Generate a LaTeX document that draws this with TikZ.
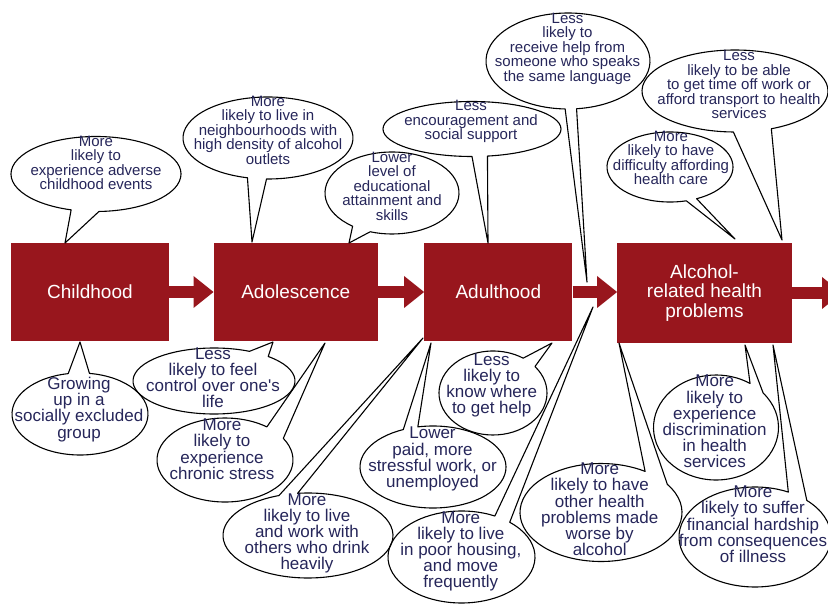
\documentclass[tikz,border=0pt]{standalone}
\usepackage{fontspec}
\newfontfamily\arialf{Liberation Sans}
\usetikzlibrary{calc,arrows.meta}
\definecolor{boxred}{RGB}{152,22,29}
\definecolor{txtnavy}{RGB}{38,38,90}
% cx cy rx ry gap-start gap-end tip
\newcommand{\balloonpath}[7]{%
  \draw[balloon] (#7) -- ($(#1,#2)+({#3*cos(#6)},{#4*sin(#6)})$)
    arc[start angle=#6, end angle={#5+360}, x radius=#3, y radius=#4] -- cycle;}
\begin{document}
\begin{tikzpicture}[x=1pt,y=-1pt,
  stagebox/.style={fill=boxred, draw=none, text=white, align=center, inner sep=0pt,
    font=\arialf\fontsize{19}{19.5}\selectfont},
  balloon/.style={draw=black, line width=1.1pt, line join=round},
  toptext/.style={text=txtnavy, align=center, inner sep=0pt,
    font=\arialf\fontsize{15}{14.5}\selectfont,
    execute at begin node=\strut, execute at end node=\strut},
  bottext/.style={toptext, font=\arialf\fontsize{17}{16.2}\selectfont},
  flow/.style={boxred, line width=11.6pt,
    -{Triangle[length=20pt,width=32pt,line width=0pt]}}]
\useasboundingbox (0,0) rectangle (828,604);
\clip (0,0) rectangle (828,604);
\fill[white] (0,0) rectangle (828,604);

% stages
\node[stagebox, minimum width=158, minimum height=98] (child) at (89.9,292) {Childhood};
\node[stagebox, minimum width=164, minimum height=98] (adol) at (295.7,292) {Adolescence};
\node[stagebox, minimum width=148, minimum height=98] (adult) at (498.3,292) {Adulthood};
\node[stagebox, minimum width=174.4, minimum height=100] (alc) at (704.5,293) {Alcohol-\\related health\\problems};
\coordinate (beyond) at (842,293);

\draw[flow] (child.east) -- (adol.west);
\draw[flow] (adol.east) -- (adult.west);
\draw[flow] (adult.east) -- (adult.east -| alc.west);
\draw[flow] (alc.east) -- (beyond);

% tail tips
\coordinate (t1) at (65,243);
\coordinate (t2) at (252,242);
\coordinate (t3) at (349,243);
\coordinate (t4) at (488,243);
\coordinate (t5) at (587,282);
\coordinate (t6) at (782,240);
\coordinate (t7) at (735,239);
\coordinate (t8) at (80,342);
\coordinate (t9) at (273,342);
\coordinate (t10) at (325,343);
\coordinate (t11) at (423,338);
\coordinate (t12) at (431,343);
\coordinate (t13) at (552,343);
\coordinate (t14) at (593,307);
\coordinate (t15) at (619,343);
\coordinate (t16) at (745,345);
\coordinate (t17) at (773,345);

% balloons
\balloonpath{96}{174}{85}{37.5}{88}{107}{t1}
\balloonpath{268}{138}{85}{41}{91}{104}{t2}
\balloonpath{392}{193}{67}{41}{109}{126}{t3}
\balloonpath{472}{129}{89}{27.5}{80}{90}{t4}
\balloonpath{568}{61}{82}{48}{84}{92}{t5}
\balloonpath{735}{91}{93}{41}{67}{91}{t6}
\balloonpath{670}{167}{63}{35}{65}{75}{t7}
\balloonpath{80}{414}{68}{41}{260}{278}{t8}
\balloonpath{214}{381}{81}{33}{-64}{-48}{t9}
\balloonpath{225}{460}{68}{42}{-52}{-31}{t10}
\balloonpath{308}{535.5}{85}{42.5}{-110}{-97}{t11}
\balloonpath{433}{467}{73}{41}{-114}{-102}{t12}
\balloonpath{493}{393}{54}{42}{-56}{-39}{t13}
\balloonpath{461.5}{557}{73.5}{46}{-63}{-49}{t14}
\balloonpath{601}{512.5}{81}{49}{-57}{-35}{t15}
\balloonpath{716}{427.5}{62.5}{52.5}{-57}{-41}{t16}
\balloonpath{755}{537}{76}{50}{-64}{-47}{t17}

% texts
\node[toptext] (n1) at (96,165) {More\\likely to\\experience adverse\\childhood events};
\node[toptext] (n2) at (268,132.5) {More\\likely to live in\\neighbourhoods with\\high density of alcohol\\outlets};
\node[toptext] (n3) at (392,188.5) {Lower\\level of\\educational\\attainment and\\skills};
\node[toptext] (n4) at (471,122.5) {Less\\encouragement and\\social support};
\node[toptext] (n5) at (567.5,49.5) {Less\\likely to\\receive help from\\someone who speaks\\the same language};
\node[toptext] (n6) at (739,87) {Less\\likely to be able\\to get time off work or\\afford transport to health\\services};
\node[toptext] (n7) at (671,160) {More\\likely to have\\difficulty affording\\health care};
\node[bottext] (n8) at (79,410) {Growing\\up in a\\socially excluded\\group};
\node[bottext] (n9) at (213,380) {Less\\likely to feel\\control over one's\\life};
\node[bottext] (n10) at (222,451.5) {More\\likely to\\experience\\chronic stress};
\node[bottext] (n11) at (307,534) {More\\likely to live\\and work with\\others who drink\\heavily};
\node[bottext] (n12) at (432.5,459.7) {Lower\\paid, more\\stressful work, or\\unemployed};
\node[bottext] (n13) at (491.7,386) {Less\\likely to\\know where\\to get help};
\node[bottext] (n14) at (460.8,552) {More\\likely to live\\in poor housing,\\and move\\frequently};
\node[bottext] (n15) at (599.7,511.7) {More\\likely to have\\other health\\problems made\\worse by\\alcohol};
\node[bottext] (n16) at (714.7,424) {More\\likely to\\experience\\discrimination\\in health\\services};
\node[bottext] (n17) at (753,526.7) {More\\likely to suffer\\financial hardship\\from consequences\\of illness};
\end{tikzpicture}
\end{document}
